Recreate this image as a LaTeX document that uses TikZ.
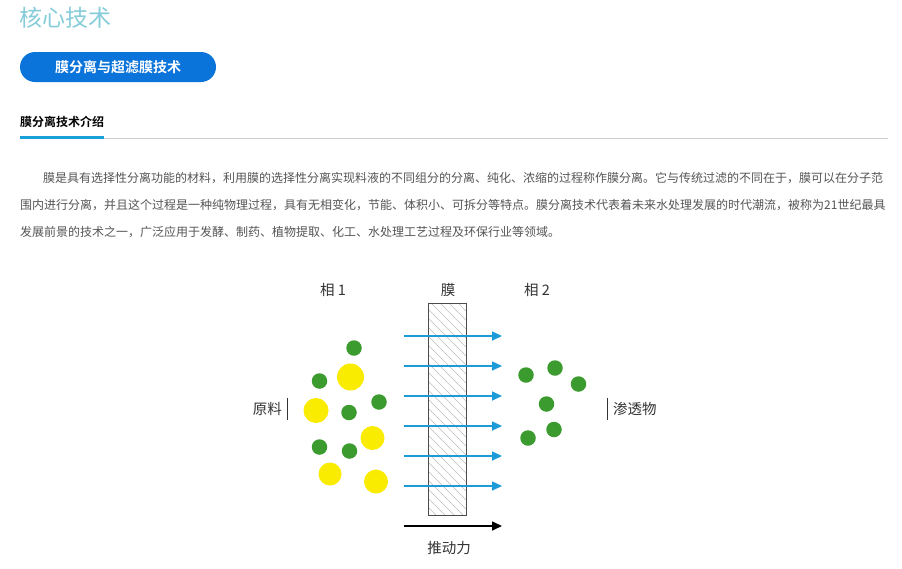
\documentclass[tikz,border=0pt]{standalone}
\usepackage{fontspec}
\setmainfont{Noto Sans CJK SC}
\newfontfamily\cjk{Noto Sans CJK SC}
\newfontfamily\cjkb{Noto Sans CJK SC Bold}
\usetikzlibrary{arrows.meta}
\definecolor{titlec}{HTML}{86CCDA}
\definecolor{btnc}{HTML}{0B74DA}
\definecolor{barc}{HTML}{1AA0D8}
\definecolor{parac}{HTML}{555555}
\definecolor{arrc}{HTML}{1C9BD8}
\definecolor{grn}{HTML}{3C9B2F}
\definecolor{ylw}{HTML}{FAEC00}
\begin{document}
\begin{tikzpicture}[x=1pt,y=-1pt,
  para/.style={anchor=west,inner sep=0pt,text=parac,font=\fontsize{12}{12}\selectfont},
  lbl/.style={inner sep=0pt,text=black!80,font=\fontsize{14.5}{15}\selectfont},
  gdot/.style={circle,fill=grn,draw=none,minimum size=15.5pt,inner sep=0pt},
  ydot/.style={circle,fill=ylw,draw=none,inner sep=0pt},
  flow/.style={draw=arrc,line width=1.6pt,-{Triangle[length=10pt,width=9pt]}},
  push/.style={draw=black,line width=1.6pt,-{Triangle[length=10pt,width=9pt]}}]
\useasboundingbox (0,0) rectangle (902,568);
\fill[white] (0,0) rectangle (902,568);
% title
\node[anchor=west,inner sep=0pt,text=titlec,font=\fontsize{23}{23}\selectfont] (title) at (19,18) {核心技术};
% button
\node[fill=btnc,rounded corners=15pt,minimum width=196pt,minimum height=30pt,inner sep=0pt,text=white,font=\cjkb\fontsize{14}{14}\selectfont] (btn) at (118,67) {膜分离与超滤膜技术};
% section heading
\node[anchor=west,inner sep=0pt,font=\cjkb\fontsize{12}{12}\selectfont] (sec) at (20,122) {膜分离技术介绍};
\draw[black!20,line width=1pt] (20,138) -- (888,138);
\draw[barc,line width=3pt] (20,137.5) -- (104,137.5);
% paragraph
\node[para] (p1) at (43,178) {膜是具有选择性分离功能的材料，利用膜的选择性分离实现料液的不同组分的分离、纯化、浓缩的过程称作膜分离。它与传统过滤的不同在于，膜可以在分子范};
\node[para] (p2) at (20,205) {围内进行分离，并且这个过程是一种纯物理过程，具有无相变化，节能、体积小、可拆分等特点。膜分离技术代表着未来水处理发展的时代潮流，被称为21世纪最具};
\node[para] (p3) at (20,232) {发展前景的技术之一，广泛应用于发酵、制药、植物提取、化工、水处理工艺过程及环保行业等领域。};
% labels
\node[lbl] (phase1) at (333,290) {相 1};
\node[lbl] (mem) at (448,290) {膜};
\node[lbl] (phase2) at (537,290) {相 2};
\node[lbl,anchor=east] (feed) at (282,409) {原料};
\draw[black!80,line width=0.8pt] (287,398) -- (287,420);
\node[lbl,anchor=west] (perm) at (613,409) {渗透物};
\draw[black!80,line width=0.8pt] (607,398) -- (607,420);
\node[lbl] (force) at (449,548) {推动力};
% membrane
\node[minimum width=37pt,minimum height=211pt,inner sep=0pt] (memb) at (447.5,409.5) {};
\begin{scope}
\clip (memb.north west) rectangle (memb.south east);
\foreach \k in {-240,-231,...,60} {
  \draw[black!25,line width=0.45pt] (429+\k,304) -- ++(260,260);
}
\end{scope}
\draw[black!70,line width=0.9pt] (memb.north west) rectangle (memb.south east);
% arrows
\foreach \i/\yy in {1/336,2/366,3/396,4/426,5/456,6/486} {
  \coordinate (a\i) at (404,\yy);
  \coordinate (b\i) at (502,\yy);
  \draw[flow] (a\i) -- (b\i);
}
\coordinate (fa) at (404,526);
\coordinate (fb) at (502,526);
\draw[push] (fa) -- (fb);
% left particles
\node[ydot,minimum size=27pt] (y1) at (350.5,377) {};
\node[ydot,minimum size=25pt] (y2) at (316,410.5) {};
\node[ydot,minimum size=24pt] (y3) at (372.5,438) {};
\node[ydot,minimum size=23pt] (y4) at (330,474) {};
\node[ydot,minimum size=24pt] (y5) at (376,481.5) {};
\node[gdot] (g1) at (354,348) {};
\node[gdot] (g2) at (319.5,381) {};
\node[gdot] (g3) at (379,402) {};
\node[gdot] (g4) at (349,412.5) {};
\node[gdot] (g5) at (319.5,447) {};
\node[gdot] (g6) at (349.5,451) {};
% right particles
\node[gdot] (r1) at (526,375) {};
\node[gdot] (r2) at (555,368) {};
\node[gdot] (r3) at (578.5,384) {};
\node[gdot] (r4) at (546.5,404) {};
\node[gdot] (r5) at (554,429.5) {};
\node[gdot] (r6) at (528,438) {};
\end{tikzpicture}
\end{document}
